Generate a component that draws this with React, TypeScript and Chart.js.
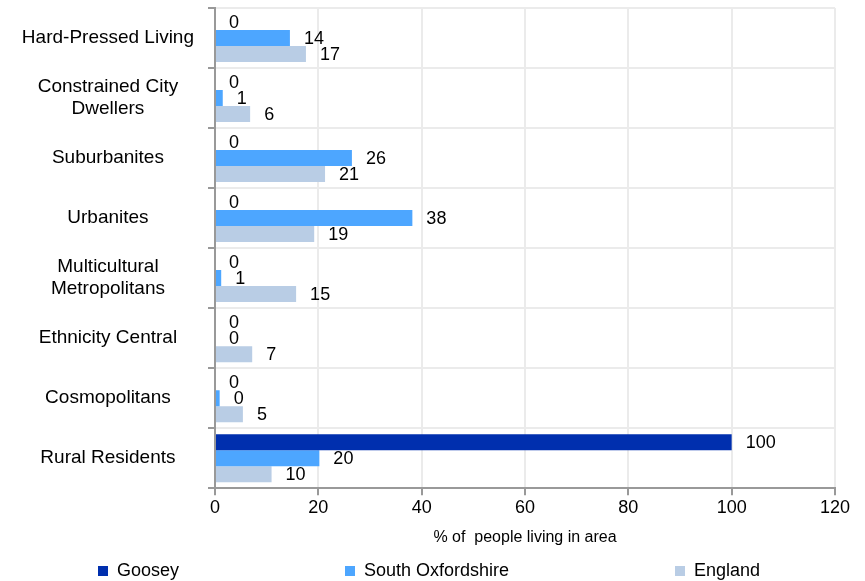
import React, { useEffect, useRef } from 'react';
import { Chart, registerables } from 'chart.js';

Chart.register(...registerables);

const FONT = "'Liberation Sans', Arial, sans-serif";

const categories: (string | string[])[] = [
  'Hard-Pressed Living',
  ['Constrained City', 'Dwellers'],
  'Suburbanites',
  'Urbanites',
  ['Multicultural', 'Metropolitans'],
  'Ethnicity Central',
  'Cosmopolitans',
  'Rural Residents',
];

const seriesNames = ['Goosey', 'South Oxfordshire', 'England'];
const gooseyValues = [0, 0, 0, 0, 0, 0, 0, 100];
const southOxfordshireValues = [14.5, 1.5, 26.5, 38.2, 1.2, 0, 0.9, 20.2];
const englandValues = [17.6, 6.8, 21.3, 19.2, 15.7, 7.2, 5.4, 10.95];
const seriesColors = ['#002fae', '#4da6ff', '#b9cde5'];

const xMin = 0;
const xMax = 120;
const xStep = 20;
const xTitle = '% of  people living in area';

const valueLabels = {
  id: 'valueLabels',
  afterDatasetsDraw(chart: any) {
    const ctx = chart.ctx as CanvasRenderingContext2D;
    ctx.save();
    ctx.font = `18px ${FONT}`;
    ctx.fillStyle = '#000';
    ctx.textAlign = 'left';
    ctx.textBaseline = 'middle';
    chart.data.datasets.forEach((ds: any, i: number) => {
      const meta = chart.getDatasetMeta(i);
      meta.data.forEach((el: any, j: number) => {
        const v = ds.data[j] as number;
        ctx.fillText(String(Math.floor(v)), el.x + 14, el.y + 1);
      });
    });
    ctx.restore();
  },
};

const bottomLegend = {
  id: 'bottomLegend',
  afterDraw(chart: any) {
    const ctx = chart.ctx as CanvasRenderingContext2D;
    ctx.save();
    ctx.font = `18px ${FONT}`;
    ctx.textBaseline = 'middle';
    ctx.textAlign = 'left';
    const box = 10;
    const gap = 9;
    const pad = 166;
    const cy = 571;
    const items = chart.data.datasets.map((ds: any) => ({
      label: ds.label as string,
      color: ds.backgroundColor as string,
      w: box + gap + ctx.measureText(ds.label).width,
    }));
    const total = items.reduce((s: number, it: any) => s + it.w, 0) + pad * (items.length - 1);
    let x = 429 - total / 2;
    items.forEach((it: any) => {
      ctx.fillStyle = it.color;
      ctx.fillRect(Math.round(x), cy - box / 2, box, box);
      ctx.fillStyle = '#000';
      ctx.fillText(it.label, x + box + gap, cy);
      x += it.w + pad;
    });
    ctx.restore();
  },
};

export default function App() {
  const ref = useRef<HTMLCanvasElement | null>(null);

  useEffect(() => {
    if (!ref.current) return;
    const values = [gooseyValues, southOxfordshireValues, englandValues];
    const chart = new Chart(ref.current, {
      type: 'bar',
      data: {
        labels: categories,
        datasets: seriesNames.map((name, i) => ({
          label: name,
          data: values[i],
          backgroundColor: seriesColors[i],
          borderWidth: 0,
          categoryPercentage: 0.8,
          barPercentage: 1.0,
        })),
      },
      options: {
        indexAxis: 'y',
        animation: false,
        responsive: false,
        devicePixelRatio: 1,
        layout: { padding: { top: 8, right: 30, bottom: 33, left: 0 } },
        plugins: {
          legend: { display: false },
          tooltip: { enabled: false },
        },
        scales: {
          x: {
            min: xMin,
            max: xMax,
            ticks: {
              stepSize: xStep,
              font: { family: FONT, size: 18 },
              color: '#000',
              padding: 2,
            },
            grid: { color: '#ebebeb', lineWidth: 2, tickColor: '#999', tickLength: 7 },
            border: { color: '#999', width: 2 },
            title: {
              display: true,
              text: xTitle,
              font: { family: FONT, size: 16 },
              color: '#000',
              padding: { top: 7, bottom: 1 },
            },
          },
          y: {
            grid: { color: '#ebebeb', lineWidth: 2, tickColor: '#999', tickLength: 7, offset: true },
            border: { color: '#999', width: 2 },
            ticks: {
              font: { family: FONT, size: 19, lineHeight: 1.15 },
              color: '#000',
              crossAlign: 'center',
              padding: 14,
              autoSkip: false,
            },
            afterFit: (s: any) => {
              s.width = 215;
              s.paddingTop = 0;
              s.paddingBottom = 0;
            },
          },
        },
      },
      plugins: [valueLabels, bottomLegend],
    } as any);
    return () => chart.destroy();
  }, []);

  return (
    <div style={{ position: 'absolute', left: 0, top: 0, width: 865, height: 581 }}>
      <canvas ref={ref} width={865} height={581} style={{ display: 'block' }} />
    </div>
  );
}
